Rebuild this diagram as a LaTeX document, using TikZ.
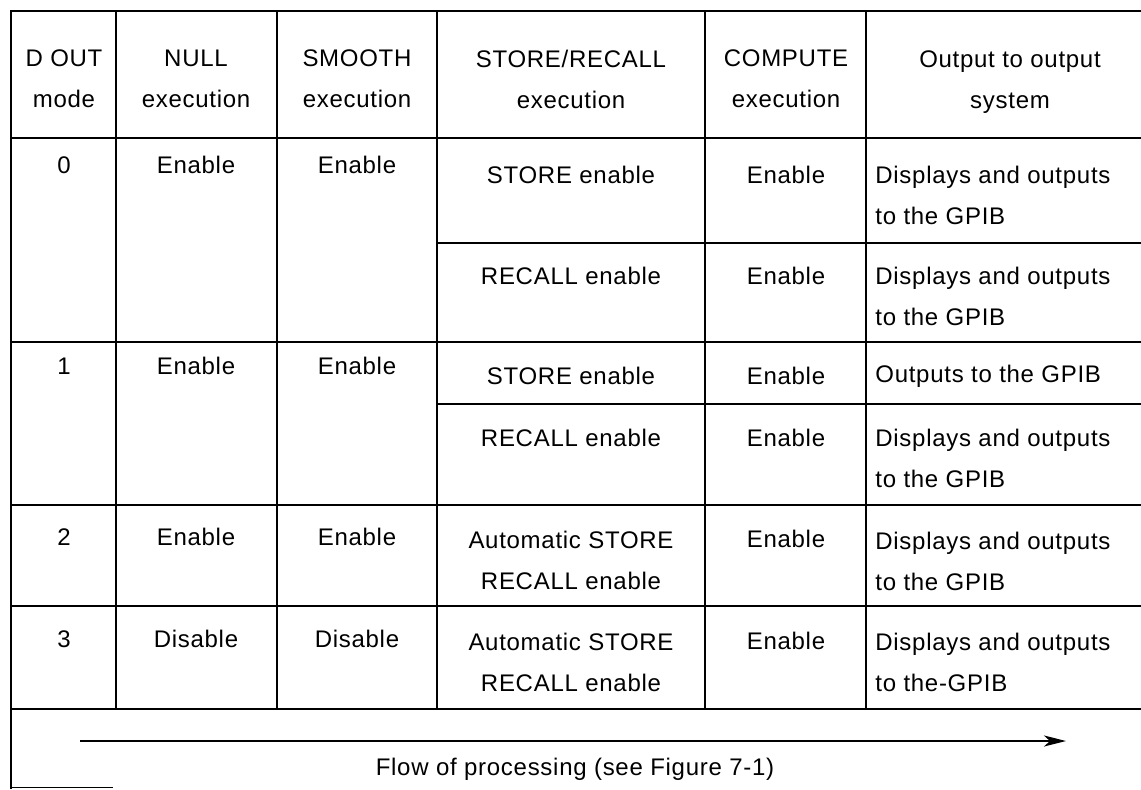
\documentclass[tikz,border=0pt]{standalone}
\usepackage{fontspec}
\setmainfont{Liberation Sans}[LetterSpace=3]
\usepackage{tikz}
\usetikzlibrary{arrows.meta}
\usetikzlibrary{positioning}

\begin{document}
\begin{tikzpicture}[x=0.5pt,y=-0.5pt,
        rule/.style={line width=1.1pt},
        cell/.style={font=\fontsize{12}{20.5}\selectfont, align=center, inner sep=0pt},
        outcell/.style={cell, align=left, anchor=west},
        flow/.style={line width=1.1pt, -{Stealth[length=11pt,width=5.5pt,inset=3pt]}}]
        \useasboundingbox (0,0) rectangle (1141,789);
        \fill[white] (0,0) rectangle (1141,789);
        % table rules
        \draw[rule] (1141,11) -- (11,11) -- (11,789);
        \draw[line width=0.5pt] (11,787) -- (113,787);
        \draw[rule] (11,138) -- (1141,138);
        \draw[rule] (11,342) -- (1141,342);
        \draw[rule] (11,505) -- (1141,505);
        \draw[rule] (11,606) -- (1141,606);
        \draw[rule] (11,709) -- (1141,709);
        \draw[rule] (437,243) -- (1141,243);
        \draw[rule] (437,404) -- (1141,404);
        \draw[rule] (116,11) -- (116,709);
        \draw[rule] (277,11) -- (277,709);
        \draw[rule] (437,11) -- (437,709);
        \draw[rule] (705,11) -- (705,709);
        \draw[rule] (866,11) -- (866,709);
        % header
        \node[cell] (hmode) at (64,79) {D OUT\\mode};
        \node[cell] (hnull) at (196,79) {NULL\\execution};
        \node[cell] (hsmooth) at (357,79) {SMOOTH\\execution};
        \node[cell] (hstore) at (571,79) {STORE/RECALL\\execution};
        \node[cell] (hcomp) at (786,79) {COMPUTE\\execution};
        \node[cell] (hout) at (1010,82) {Output to output\\system};
        % mode 0
        \node[cell] (m0) at (64,165) {0};
        \node[cell] (null0) at (196,165) {Enable};
        \node[cell] (smooth0) at (357,165) {Enable};
        \node[cell] (store0) at (571,175) {STORE enable};
        \node[cell] (comp0) at (786,175) {Enable};
        \node[outcell] (out0) at (875,195.5) {Displays and outputs\\to the GPIB};
        \node[cell] (recall0) at (571,276) {RECALL enable};
        \node[cell] (comp0r) at (786,276) {Enable};
        \node[outcell] (out0r) at (875,296.5) {Displays and outputs\\to the GPIB};
        % mode 1
        \node[cell] (m1) at (64,366) {1};
        \node[cell] (null1) at (196,366) {Enable};
        \node[cell] (smooth1) at (357,366) {Enable};
        \node[cell] (store1) at (571,376) {STORE enable};
        \node[cell] (comp1) at (786,376) {Enable};
        \node[outcell] (out1) at (875,376) {Outputs to the GPIB};
        \node[cell] (recall1) at (571,438) {RECALL enable};
        \node[cell] (comp1r) at (786,438) {Enable};
        \node[outcell] (out1r) at (875,458.5) {Displays and outputs\\to the GPIB};
        % mode 2
        \node[cell] (m2) at (64,537) {2};
        \node[cell] (null2) at (196,537) {Enable};
        \node[cell] (smooth2) at (357,537) {Enable};
        \node[cell] (auto2) at (571,560) {Automatic STORE\\RECALL enable};
        \node[cell] (comp2) at (786,539) {Enable};
        \node[outcell] (out2) at (875,561) {Displays and outputs\\to the GPIB};
        % mode 3
        \node[cell] (m3) at (64,639) {3};
        \node[cell] (null3) at (196,639) {Disable};
        \node[cell] (smooth3) at (357,639) {Disable};
        \node[cell] (auto3) at (571,662) {Automatic STORE\\RECALL enable};
        \node[cell] (comp3) at (786,641) {Enable};
        \node[outcell] (out3) at (875,662) {Displays and outputs\\to the-GPIB};
        % flow of processing
        \coordinate (flowstart) at (80,741);
        \coordinate (flowend) at (1066,741);
        \draw[flow] (flowstart) -- (flowend);
        \node[cell] (flowtext) at (575,769) {Flow of processing (see Figure 7-1)};
\end{tikzpicture}
\end{document}
